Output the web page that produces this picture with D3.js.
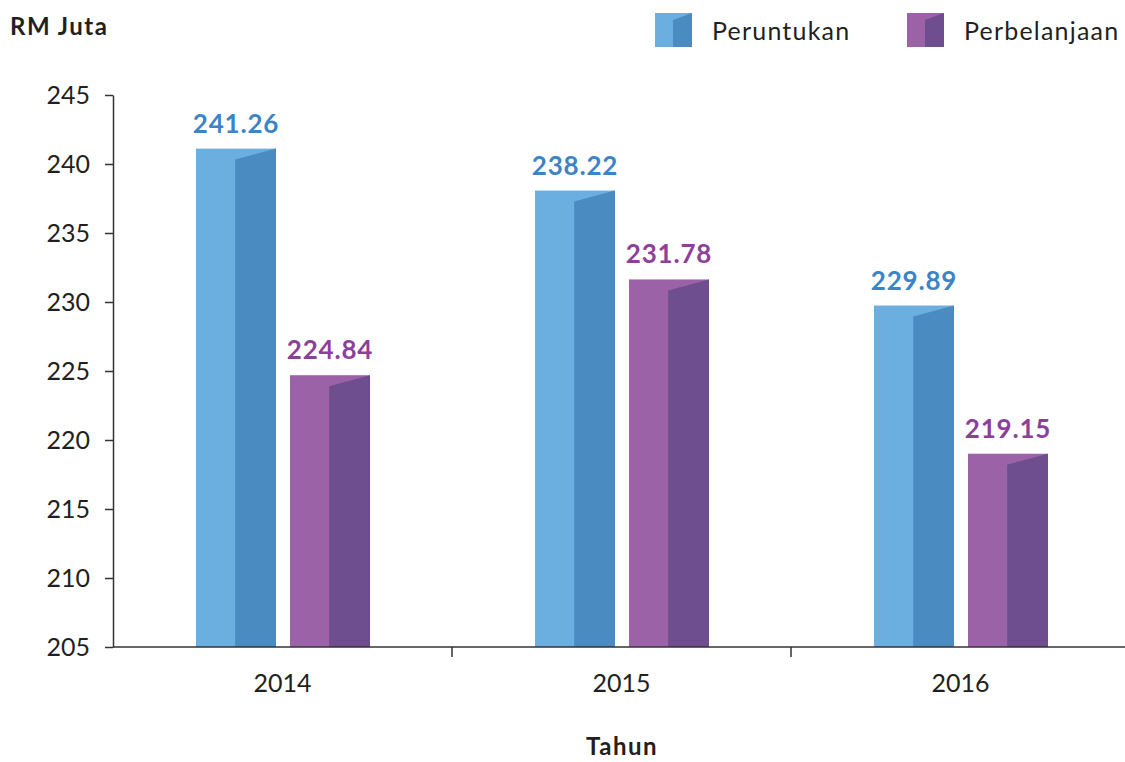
<!DOCTYPE html>
<html>
<head>
<meta charset="utf-8">
<script src="https://cdn.jsdelivr.net/npm/d3@7"></script>
<style>
  body { margin: 0; background: #fff; }
  svg { display: block; font-family: "Lato", "Noto Sans", sans-serif; }
</style>
</head>
<body>
<svg id="chart" width="1125" height="762"></svg>
<script>
// data
var years = ["2014", "2015", "2016"];
var seriesNames = ["Peruntukan", "Perbelanjaan"];
var peruntukan = [241.26, 238.22, 229.89];
var perbelanjaan = [224.84, 231.78, 219.15];
var yTicks = [205, 210, 215, 220, 225, 230, 235, 240, 245];

var colours = [
  { light: "#6aafdf", dark: "#4a8bc2", label: "#3d84c6" },
  { light: "#9c62a7", dark: "#6e4e8e", label: "#8d3f99" }
];

var svg = d3.select("#chart");
var plotLeft = 113, plotRight = 1130, plotTop = 95, plotBottom = 647;

var y = d3.scaleLinear().domain([205, 245]).range([plotBottom, plotTop]);
var x = d3.scaleBand().domain(years).range([plotLeft, plotRight]).padding(0);
var barW = 80, gap = 14;
var x1 = d3.scaleBand().domain(seriesNames).range([0, barW * 2 + gap]).paddingInner(gap / (barW + gap));
var groupOff = 83;

// y axis
var yAxisG = svg.append("g").attr("transform", "translate(" + plotLeft + ",0)");
yAxisG.call(d3.axisLeft(y).tickValues(yTicks).tickSize(8).tickSizeOuter(0).tickPadding(15));
yAxisG.select(".domain").attr("stroke", "#333").attr("stroke-width", 1.5);
yAxisG.selectAll(".tick line").attr("stroke", "#333").attr("stroke-width", 1.5);
yAxisG.selectAll(".tick text")
  .attr("font-size", 25).attr("fill", "#231f20")
  .style("font-family", "Lato, sans-serif");

// x axis
var xAxisG = svg.append("g");
xAxisG.selectAll("line.tk").data(years.slice(1)).enter().append("line")
  .attr("class", "tk")
  .attr("x1", function (d) { return x(d); }).attr("x2", function (d) { return x(d); })
  .attr("y1", plotBottom).attr("y2", plotBottom + 10)
  .attr("stroke", "#333").attr("stroke-width", 1.5);
xAxisG.selectAll("text").data(years).enter().append("text")
  .attr("x", function (d) { return x(d) + x.bandwidth() / 2; })
  .attr("y", 692)
  .attr("text-anchor", "middle")
  .attr("font-size", 25).attr("fill", "#231f20")
  .text(function (d) { return d; });

// bars: flat light face + slanted dark side
function drawBar(g, bx, v, c, w, slant, yBase) {
  var ty = y(v) + 2;
  g.append("rect")
    .attr("x", bx).attr("y", ty)
    .attr("width", w).attr("height", yBase - ty)
    .attr("fill", c.light);
  var mid = bx + w * 0.49;
  g.append("path")
    .attr("d", "M" + mid + "," + (ty + slant) + "L" + (bx + w) + "," + ty +
      "L" + (bx + w) + "," + yBase + "L" + mid + "," + yBase + "Z")
    .attr("fill", c.dark);
}

var allSeries = [peruntukan, perbelanjaan];
var barsG = svg.append("g");
years.forEach(function (yr, i) {
  allSeries.forEach(function (vals, s) {
    var bx = x(yr) + groupOff + x1(seriesNames[s]);
    drawBar(barsG, bx, vals[i], colours[s], x1.bandwidth(), 11, plotBottom);
    barsG.append("text")
      .attr("x", bx + x1.bandwidth() / 2)
      .attr("y", y(vals[i]) - 14)
      .attr("text-anchor", "middle")
      .attr("font-size", 26).attr("font-weight", 700)
      .attr("letter-spacing", 0.8)
      .attr("fill", colours[s].label)
      .text(vals[i].toFixed(2));
  });
});

// x axis line over bar bottoms
svg.append("line")
  .attr("x1", plotLeft).attr("x2", 1125)
  .attr("y1", plotBottom).attr("y2", plotBottom)
  .attr("stroke", "#333").attr("stroke-width", 1.5);

// axis titles
svg.append("text")
  .attr("x", 10).attr("y", 35)
  .attr("font-size", 24).attr("font-weight", 700).attr("fill", "#231f20")
  .attr("letter-spacing", 1.5)
  .text("RM Juta");
svg.append("text")
  .attr("x", 622).attr("y", 755)
  .attr("text-anchor", "middle")
  .attr("font-size", 24).attr("font-weight", 700).attr("fill", "#231f20")
  .attr("letter-spacing", 1.5)
  .text("Tahun");

// legend
var legendX = [655, 907];
seriesNames.forEach(function (name, s) {
  var lg = svg.append("g");
  var lx = legendX[s], ly = 13, lw = 37, lh = 34;
  lg.append("rect").attr("x", lx).attr("y", ly).attr("width", lw).attr("height", lh).attr("fill", colours[s].light);
  lg.append("path")
    .attr("d", "M" + (lx + 18) + "," + (ly + 7) + "L" + (lx + lw) + "," + ly +
      "L" + (lx + lw) + "," + (ly + lh) + "L" + (lx + 18) + "," + (ly + lh) + "Z")
    .attr("fill", colours[s].dark);
  lg.append("text")
    .attr("x", lx + 57).attr("y", 40)
    .attr("font-size", 25).attr("fill", "#231f20")
    .attr("letter-spacing", 1.2)
    .text(name);
});
</script>
</body>
</html>
